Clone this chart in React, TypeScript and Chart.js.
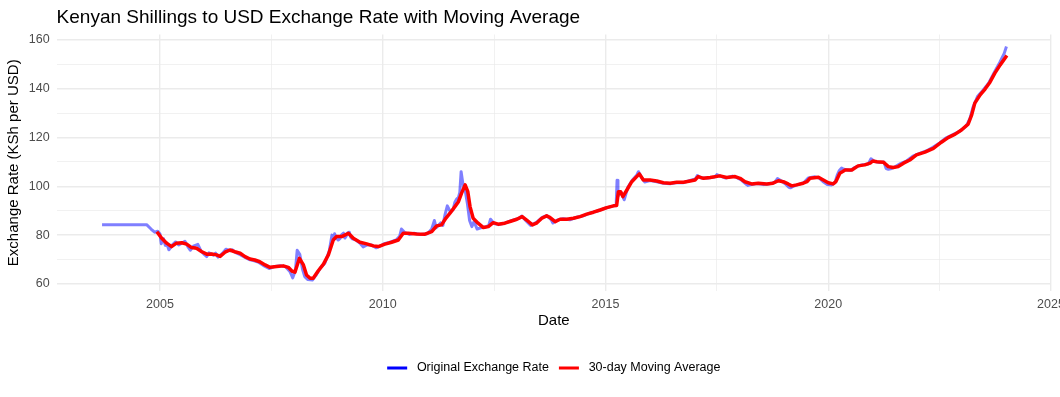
import React, { useEffect, useRef } from 'react';
import { Chart, registerables } from 'chart.js';

Chart.register(...registerables);

// Original daily exchange rate (decimal years / KSh per USD)
const rateYears = [
  2003.70, 2004.70, 2004.80, 2004.88, 2004.95, 2005.00, 2005.03, 2005.05, 2005.08, 2005.12,
  2005.15, 2005.20, 2005.28, 2005.35, 2005.42, 2005.50, 2005.56, 2005.62, 2005.68, 2005.75,
  2005.85, 2005.92, 2006.00, 2006.05, 2006.10, 2006.20, 2006.25, 2006.30, 2006.40, 2006.48,
  2006.58, 2006.62, 2006.70, 2006.80, 2006.90, 2007.00, 2007.10, 2007.22, 2007.35, 2007.45,
  2007.55, 2007.70, 2007.82, 2007.92, 2007.98, 2008.04, 2008.08, 2008.14, 2008.20, 2008.25,
  2008.32, 2008.42, 2008.50, 2008.60, 2008.70, 2008.80, 2008.86, 2008.90, 2008.92, 2008.95,
  2009.00, 2009.04, 2009.08, 2009.12, 2009.15, 2009.18, 2009.22, 2009.25, 2009.28, 2009.32,
  2009.40, 2009.50, 2009.56, 2009.65, 2009.75, 2009.85, 2009.95, 2010.05, 2010.15, 2010.30,
  2010.38, 2010.42, 2010.50, 2010.60, 2010.70, 2010.85, 2011.00, 2011.10, 2011.16, 2011.20,
  2011.30, 2011.35, 2011.40, 2011.45, 2011.52, 2011.58, 2011.62, 2011.66, 2011.70, 2011.73,
  2011.76, 2011.80, 2011.85, 2011.90, 2011.95, 2012.00, 2012.05, 2012.12, 2012.20, 2012.30,
  2012.38, 2012.42, 2012.50, 2012.60, 2012.75, 2012.90, 2013.05, 2013.12, 2013.22, 2013.32,
  2013.45, 2013.58, 2013.68, 2013.78, 2013.82, 2013.92, 2014.05, 2014.20, 2014.35, 2014.50,
  2014.65, 2014.80, 2014.95, 2015.10, 2015.24, 2015.26, 2015.28, 2015.35, 2015.42, 2015.50,
  2015.60, 2015.70, 2015.74, 2015.80, 2015.88, 2016.00, 2016.15, 2016.30, 2016.45, 2016.60,
  2016.75, 2016.90, 2017.02, 2017.06, 2017.15, 2017.30, 2017.45, 2017.50, 2017.55, 2017.70,
  2017.85, 2017.95, 2018.05, 2018.15, 2018.20, 2018.25, 2018.40, 2018.55, 2018.65, 2018.80,
  2018.86, 2018.95, 2019.05, 2019.12, 2019.15, 2019.20, 2019.30, 2019.45, 2019.55, 2019.70,
  2019.80, 2019.88, 2019.97, 2020.08, 2020.15, 2020.20, 2020.25, 2020.30, 2020.35, 2020.50,
  2020.60, 2020.75, 2020.90, 2020.96, 2021.03, 2021.15, 2021.25, 2021.30, 2021.35, 2021.40,
  2021.50, 2021.62, 2021.75, 2021.90, 2022.05, 2022.20, 2022.35, 2022.50, 2022.65, 2022.80,
  2022.95, 2023.10, 2023.18, 2023.25, 2023.35, 2023.48, 2023.60, 2023.72, 2023.85, 2023.95,
  2024.00,
];
const rateValues = [
  84.3, 84.3, 82.5, 81.2, 81.6, 80.5, 76.5, 77.8, 78.5, 75.8,
  76.8, 74.0, 76.0, 77.2, 76.0, 76.8, 77.5, 75.5, 73.8, 75.5,
  76.2, 73.5, 72.0, 71.2, 72.8, 71.8, 72.6, 71.0, 72.5, 74.2,
  73.6, 74.0, 72.8, 72.0, 71.0, 70.0, 69.6, 68.8, 67.3, 66.3,
  67.0, 67.5, 67.0, 65.0, 62.5, 65.5, 73.8, 72.0, 66.0, 63.0,
  61.8, 61.6, 63.5, 66.5, 68.5, 73.5, 80.0, 78.2, 80.6, 79.0,
  78.0, 78.6, 80.2, 80.8, 78.8, 79.6, 81.0, 81.2, 79.2, 78.5,
  78.0, 76.5, 75.2, 76.0, 76.0, 74.8, 75.6, 76.6, 77.0, 78.0,
  79.5, 82.5, 81.0, 80.3, 80.8, 80.3, 80.6, 82.5, 86.0, 83.0,
  85.0, 84.0, 88.5, 92.0, 89.5, 90.5, 93.5, 94.8, 95.5, 97.5,
  106.0, 101.0, 98.5, 93.0, 86.0, 83.5, 85.5, 82.5, 83.0, 83.3,
  84.0, 86.5, 84.8, 84.3, 85.0, 86.0, 86.8, 87.8, 85.8, 84.0,
  85.2, 87.3, 88.0, 86.4, 85.0, 86.2, 86.7, 86.3, 87.3, 87.9,
  89.0, 89.8, 90.8, 91.6, 92.3, 102.5, 96.0, 97.5, 94.5, 99.5,
  102.5, 104.5, 106.0, 104.0, 101.8, 102.4, 101.9, 101.3, 101.1, 101.6,
  101.5, 102.4, 103.0, 104.4, 103.4, 103.4, 103.8, 104.8, 104.4, 103.4,
  104.2, 103.6, 102.6, 101.0, 100.4, 100.6, 101.2, 100.7, 101.0, 101.6,
  103.2, 102.2, 100.8, 99.6, 99.4, 99.9, 100.6, 101.5, 103.4, 103.9,
  103.4, 102.0, 100.8, 100.6, 101.5, 104.5, 106.5, 107.5, 107.0, 106.5,
  107.8, 108.8, 109.2, 111.3, 110.3, 109.8, 110.0, 107.3, 107.0, 107.2,
  108.0, 109.3, 110.3, 112.4, 113.5, 114.5, 116.0, 117.8, 119.9, 121.2,
  122.6, 124.8, 127.8, 132.5, 136.8, 139.5, 142.3, 146.5, 150.8, 154.5,
  157.3,
];

// 30-day moving average
const maYears = [
  2004.93, 2005.04, 2005.15, 2005.26, 2005.37, 2005.49, 2005.60, 2005.71, 2005.82, 2005.94,
  2006.05, 2006.16, 2006.27, 2006.35, 2006.46, 2006.57, 2006.68, 2006.80, 2006.91, 2007.02,
  2007.13, 2007.24, 2007.36, 2007.47, 2007.62, 2007.77, 2007.88, 2007.96, 2008.03, 2008.13,
  2008.22, 2008.29, 2008.37, 2008.44, 2008.55, 2008.67, 2008.78, 2008.89, 2008.96, 2009.08,
  2009.23, 2009.34, 2009.49, 2009.64, 2009.79, 2009.90, 2010.05, 2010.20, 2010.35, 2010.46,
  2010.57, 2010.76, 2010.95, 2011.10, 2011.21, 2011.32, 2011.42, 2011.51, 2011.62, 2011.70,
  2011.77, 2011.85, 2011.91, 2011.96, 2012.03, 2012.14, 2012.26, 2012.37, 2012.48, 2012.59,
  2012.74, 2012.89, 2013.01, 2013.13, 2013.23, 2013.36, 2013.45, 2013.57, 2013.68, 2013.75,
  2013.87, 2013.98, 2014.13, 2014.28, 2014.43, 2014.58, 2014.73, 2014.88, 2015.03, 2015.18,
  2015.25, 2015.29, 2015.34, 2015.39, 2015.48, 2015.59, 2015.70, 2015.76, 2015.85, 2016.00,
  2016.15, 2016.30, 2016.45, 2016.60, 2016.75, 2016.90, 2017.01, 2017.08, 2017.20, 2017.35,
  2017.57, 2017.72, 2017.91, 2018.02, 2018.13, 2018.28, 2018.43, 2018.62, 2018.76, 2018.88,
  2018.99, 2019.10, 2019.18, 2019.29, 2019.44, 2019.52, 2019.59, 2019.78, 2019.89, 2020.00,
  2020.11, 2020.17, 2020.26, 2020.38, 2020.53, 2020.67, 2020.82, 2020.94, 2021.00, 2021.09,
  2021.24, 2021.35, 2021.46, 2021.57, 2021.69, 2021.83, 2021.98, 2022.17, 2022.36, 2022.54,
  2022.69, 2022.85, 2022.99, 2023.14, 2023.22, 2023.29, 2023.41, 2023.52, 2023.63, 2023.74,
  2023.86, 2024.01,
];
const maValues = [
  81.4, 78.7, 76.7, 75.3, 76.7, 76.9, 76.3, 74.9, 74.6, 73.2,
  72.2, 72.3, 71.9, 71.3, 73.0, 73.9, 73.2, 72.6, 71.2, 70.2,
  69.8, 69.1, 67.8, 66.8, 67.1, 67.4, 66.8, 65.3, 64.8, 70.5,
  67.8, 63.7, 62.3, 62.3, 65.3, 68.1, 71.9, 78.0, 79.4, 79.4,
  80.8, 78.7, 77.1, 76.4, 75.6, 75.3, 76.3, 77.1, 78.0, 80.8,
  80.8, 80.5, 80.4, 81.4, 83.8, 84.2, 87.0, 89.0, 91.7, 93.7,
  97.2, 100.6, 97.8, 91.7, 86.9, 84.9, 83.1, 83.5, 85.1, 84.5,
  84.9, 85.8, 86.5, 87.6, 86.2, 84.2, 84.9, 86.9, 87.9, 87.3,
  85.5, 86.5, 86.5, 86.9, 87.6, 88.6, 89.4, 90.3, 91.3, 92.0,
  92.1, 97.8, 97.8, 95.8, 98.5, 101.9, 104.0, 105.1, 102.6, 102.6,
  102.2, 101.5, 101.3, 101.7, 101.7, 102.2, 102.6, 104.0, 103.3, 103.6,
  104.3, 103.6, 104.0, 103.3, 101.9, 101.0, 101.3, 101.0, 101.3, 102.3,
  101.9, 101.0, 100.2, 100.6, 101.3, 101.9, 103.3, 103.7, 102.6, 101.5,
  101.0, 101.9, 105.4, 106.7, 106.7, 108.4, 108.8, 109.5, 110.4, 110.1,
  109.9, 108.1, 107.7, 108.1, 109.5, 110.8, 112.9, 114.0, 115.6, 118.1,
  120.0, 121.4, 123.1, 125.5, 129.3, 134.1, 137.5, 139.9, 142.7, 146.4,
  149.8, 153.6,
];

const seriesLabels = ['Original Exchange Rate', '30-day Moving Average'];
const legendColors = ['#0000FF', '#FF0000'];
const xMin = 2002.68;
const xMax = 2025;
const yMin = 57.1;
const yMax = 162.25;

const FONT = "'Liberation Sans', Arial, Helvetica, sans-serif";

export default function App() {
  const ref = useRef<HTMLCanvasElement>(null);

  useEffect(() => {
    const canvas = ref.current;
    if (!canvas) return;
    const isMajor = (v: number, step: number) => Math.abs(v / step - Math.round(v / step)) < 1e-6;

    const chart = new Chart(canvas, {
      type: 'line',
      data: {
        datasets: [
          {
            label: seriesLabels[0],
            data: rateYears.map((x, i) => ({ x, y: rateValues[i] })),
            borderColor: 'rgba(0,0,255,0.5)',
            borderWidth: 3,
            pointRadius: 0,
            borderJoinStyle: 'round',
            tension: 0,
            order: 2,
          },
          {
            label: seriesLabels[1],
            data: maYears.map((x, i) => ({ x, y: maValues[i] })),
            borderColor: '#FF0000',
            borderWidth: 3.5,
            pointRadius: 0,
            borderJoinStyle: 'round',
            tension: 0,
            order: 1,
          },
        ],
      },
      options: {
        responsive: false,
        animation: false,
        devicePixelRatio: 1,
        layout: { padding: { left: 0, right: 9, top: 0, bottom: 12.75 } },
        plugins: {
          tooltip: { enabled: false },
          title: {
            display: true,
            text: 'Kenyan Shillings to USD Exchange Rate with Moving Average',
            align: 'start',
            fullSize: false,
            color: '#000000',
            font: { size: 19, family: FONT, weight: 'normal' },
            padding: { top: 6.6, bottom: 5.1 },
          },
          legend: {
            position: 'bottom',
            fullSize: false,
            labels: {
              boxWidth: 20,
              boxHeight: 3,
              padding: 10,
              color: '#000000',
              font: { size: 12.5, family: FONT },
              generateLabels: () =>
                seriesLabels.map((t, i) => ({
                  text: ' ' + t,
                  fillStyle: legendColors[i],
                  strokeStyle: legendColors[i],
                  lineWidth: 0,
                  hidden: false,
                  datasetIndex: i,
                  fontColor: '#000000',
                })),
            },
          },
        },
        scales: {
          x: {
            type: 'linear',
            min: xMin,
            max: xMax,
            afterFit: (s: any) => {
              s.height = 60.75;
              s.paddingLeft = 0;
              s.paddingRight = 0;
            },
            border: { display: false },
            grid: {
              drawTicks: false,
              color: '#EBEBEB',
              lineWidth: (c: any) => (c.tick && isMajor(c.tick.value, 5) ? 1.4 : 0.7),
            },
            ticks: {
              stepSize: 2.5,
              includeBounds: false,
              autoSkip: false,
              maxRotation: 0,
              padding: 6,
              color: '#4D4D4D',
              font: { size: 12.5, family: FONT },
              callback: (v: any) => (isMajor(Number(v), 5) ? String(Math.round(Number(v))) : ''),
            },
            title: {
              display: true,
              text: 'Date',
              color: '#000000',
              font: { size: 15, family: FONT },
              padding: { top: 0, bottom: 22.25 },
            },
          },
          y: {
            type: 'linear',
            min: yMin,
            max: yMax,
            afterFit: (s: any) => {
              s.width = 56.6;
              s.paddingTop = 0;
              s.paddingBottom = 0;
            },
            border: { display: false },
            grid: {
              drawTicks: false,
              color: '#EBEBEB',
              lineWidth: (c: any) => (c.tick && isMajor(c.tick.value, 20) ? 1.4 : 0.7),
            },
            ticks: {
              stepSize: 10,
              includeBounds: false,
              autoSkip: false,
              padding: 7,
              color: '#4D4D4D',
              font: { size: 12.5, family: FONT },
              callback: (v: any) => (isMajor(Number(v), 20) ? String(Math.round(Number(v))) : ''),
            },
            title: {
              display: true,
              text: 'Exchange Rate (KSh per USD)',
              color: '#000000',
              font: { size: 15, family: FONT },
              padding: { top: 5, bottom: 0 },
            },
          },
        },
      },
    } as any);

    return () => chart.destroy();
  }, []);

  return (
    <div style={{ position: 'absolute', left: 0, top: 0, width: 1060, height: 397, background: '#ffffff' }}>
      <canvas ref={ref} width={1060} height={397} style={{ display: 'block', width: 1060, height: 397 }} />
    </div>
  );
}
